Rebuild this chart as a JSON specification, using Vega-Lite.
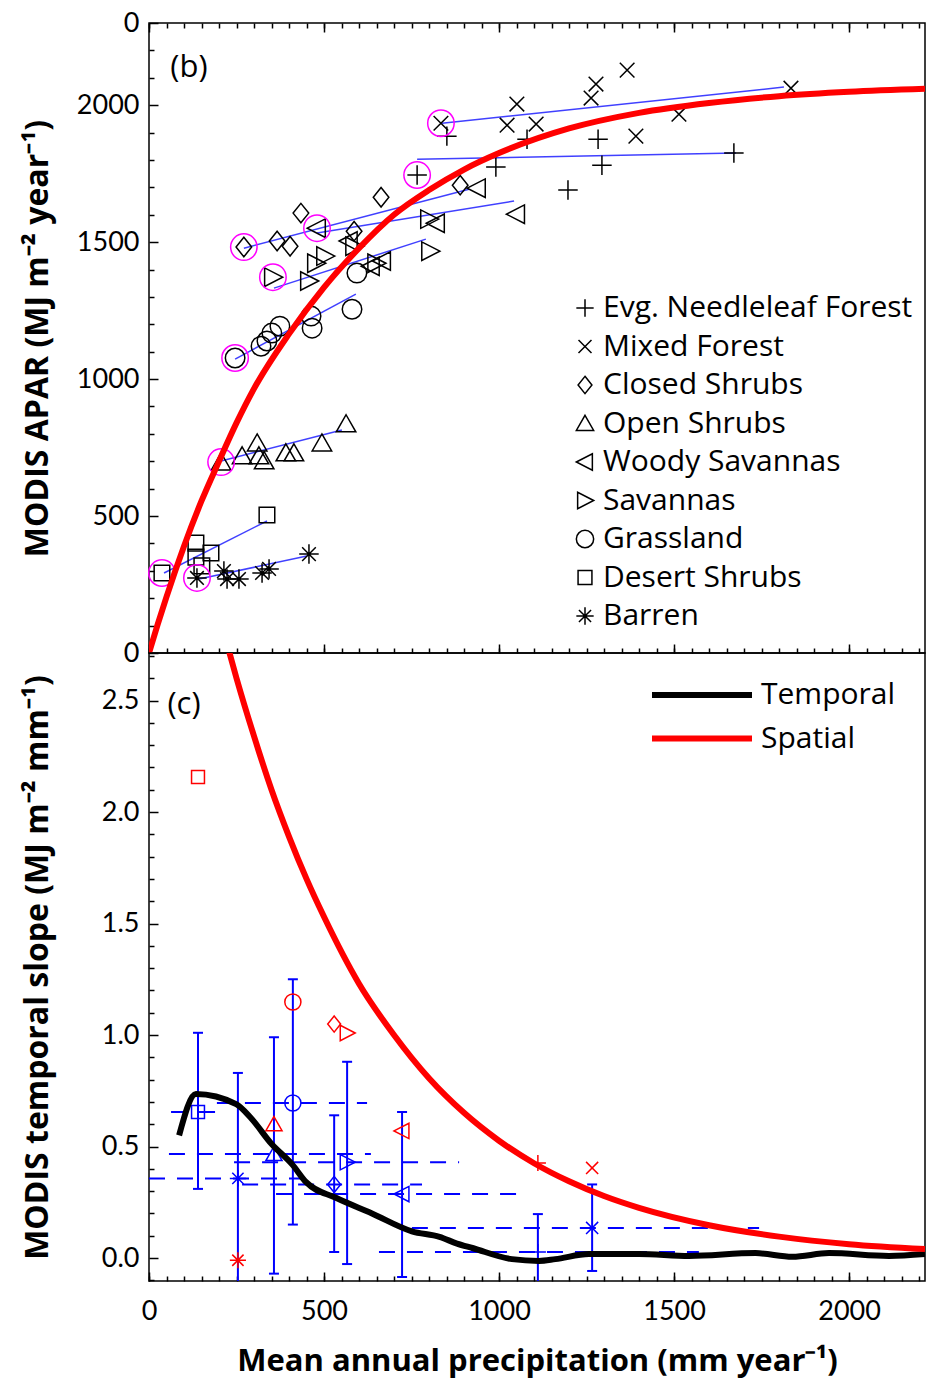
{
  "$schema": "https://vega.github.io/schema/vega-lite/v6.json",
  "background": "white",
  "padding": {"left": 20, "top": 8, "right": 0, "bottom": 8},
  "spacing": 0,
  "bounds": "flush",
  "config": {
    "view": {"stroke": "black", "strokeWidth": 1.5},
    "font": "Lato",
    "axis": {"labelFont": "Lato", "labelFontSize": 27, "labelColor": "black", "titleFont": "Open Sans", "titleFontSize": 32, "titleFontWeight": "bold", "titleColor": "black", "domain": false, "grid": false, "tickColor": "black", "tickWidth": 1.5, "labelOverlap": false, "labelFlush": false, "labelBound": false},
    "legend": {"labelFont": "Open Sans", "labelFontSize": 30, "labelColor": "black", "padding": 0, "labelLimit": 0}
  },
  "datasets": {
    "pts": [
      {"cls": "Evg. Needleleaf Forest", "x": 766, "y": 1745, "first": 1},
      {"cls": "Evg. Needleleaf Forest", "x": 851, "y": 1887, "first": 0},
      {"cls": "Evg. Needleleaf Forest", "x": 991, "y": 1774, "first": 0},
      {"cls": "Evg. Needleleaf Forest", "x": 1080, "y": 1876, "first": 0},
      {"cls": "Evg. Needleleaf Forest", "x": 1283, "y": 1876, "first": 0},
      {"cls": "Evg. Needleleaf Forest", "x": 1294, "y": 1781, "first": 0},
      {"cls": "Evg. Needleleaf Forest", "x": 1197, "y": 1690, "first": 0},
      {"cls": "Evg. Needleleaf Forest", "x": 1671, "y": 1825, "first": 0},
      {"cls": "Mixed Forest", "x": 834, "y": 1934, "first": 1},
      {"cls": "Mixed Forest", "x": 1051, "y": 2004, "first": 0},
      {"cls": "Mixed Forest", "x": 1023, "y": 1927, "first": 0},
      {"cls": "Mixed Forest", "x": 1106, "y": 1931, "first": 0},
      {"cls": "Mixed Forest", "x": 1277, "y": 2077, "first": 0},
      {"cls": "Mixed Forest", "x": 1263, "y": 2026, "first": 0},
      {"cls": "Mixed Forest", "x": 1366, "y": 2128, "first": 0},
      {"cls": "Mixed Forest", "x": 1514, "y": 1967, "first": 0},
      {"cls": "Mixed Forest", "x": 1391, "y": 1887, "first": 0},
      {"cls": "Mixed Forest", "x": 1834, "y": 2062, "first": 0},
      {"cls": "Closed Shrubs", "x": 271, "y": 1482, "first": 1},
      {"cls": "Closed Shrubs", "x": 366, "y": 1504, "first": 0},
      {"cls": "Closed Shrubs", "x": 403, "y": 1485, "first": 0},
      {"cls": "Closed Shrubs", "x": 434, "y": 1606, "first": 0},
      {"cls": "Closed Shrubs", "x": 663, "y": 1664, "first": 0},
      {"cls": "Closed Shrubs", "x": 889, "y": 1708, "first": 0},
      {"cls": "Closed Shrubs", "x": 586, "y": 1540, "first": 0},
      {"cls": "Woody Savannas", "x": 480, "y": 1551, "first": 1},
      {"cls": "Woody Savannas", "x": 571, "y": 1504, "first": 0},
      {"cls": "Woody Savannas", "x": 666, "y": 1431, "first": 0},
      {"cls": "Woody Savannas", "x": 820, "y": 1569, "first": 0},
      {"cls": "Woody Savannas", "x": 937, "y": 1697, "first": 0},
      {"cls": "Woody Savannas", "x": 1049, "y": 1602, "first": 0},
      {"cls": "Woody Savannas", "x": 634, "y": 1412, "first": 0},
      {"cls": "Savannas", "x": 354, "y": 1372, "first": 1},
      {"cls": "Savannas", "x": 477, "y": 1423, "first": 0},
      {"cls": "Savannas", "x": 457, "y": 1358, "first": 0},
      {"cls": "Savannas", "x": 503, "y": 1449, "first": 0},
      {"cls": "Savannas", "x": 800, "y": 1584, "first": 0},
      {"cls": "Savannas", "x": 803, "y": 1467, "first": 0},
      {"cls": "Savannas", "x": 649, "y": 1423, "first": 0},
      {"cls": "Savannas", "x": 586, "y": 1485, "first": 0},
      {"cls": "Grassland", "x": 246, "y": 1077, "first": 1},
      {"cls": "Grassland", "x": 320, "y": 1120, "first": 0},
      {"cls": "Grassland", "x": 337, "y": 1139, "first": 0},
      {"cls": "Grassland", "x": 351, "y": 1168, "first": 0},
      {"cls": "Grassland", "x": 374, "y": 1193, "first": 0},
      {"cls": "Grassland", "x": 463, "y": 1230, "first": 0},
      {"cls": "Grassland", "x": 466, "y": 1186, "first": 0},
      {"cls": "Grassland", "x": 580, "y": 1255, "first": 0},
      {"cls": "Grassland", "x": 594, "y": 1387, "first": 0},
      {"cls": "Open Shrubs", "x": 206, "y": 697, "first": 1},
      {"cls": "Open Shrubs", "x": 266, "y": 719, "first": 0},
      {"cls": "Open Shrubs", "x": 309, "y": 766, "first": 0},
      {"cls": "Open Shrubs", "x": 314, "y": 719, "first": 0},
      {"cls": "Open Shrubs", "x": 329, "y": 701, "first": 0},
      {"cls": "Open Shrubs", "x": 391, "y": 730, "first": 0},
      {"cls": "Open Shrubs", "x": 414, "y": 730, "first": 0},
      {"cls": "Open Shrubs", "x": 494, "y": 766, "first": 0},
      {"cls": "Open Shrubs", "x": 563, "y": 836, "first": 0},
      {"cls": "Desert Shrubs", "x": 37, "y": 292, "first": 1},
      {"cls": "Desert Shrubs", "x": 134, "y": 401, "first": 0},
      {"cls": "Desert Shrubs", "x": 134, "y": 350, "first": 0},
      {"cls": "Desert Shrubs", "x": 177, "y": 365, "first": 0},
      {"cls": "Desert Shrubs", "x": 151, "y": 318, "first": 0},
      {"cls": "Desert Shrubs", "x": 337, "y": 504, "first": 0},
      {"cls": "Barren", "x": 137, "y": 274, "first": 1},
      {"cls": "Barren", "x": 214, "y": 299, "first": 0},
      {"cls": "Barren", "x": 223, "y": 270, "first": 0},
      {"cls": "Barren", "x": 257, "y": 270, "first": 0},
      {"cls": "Barren", "x": 323, "y": 292, "first": 0},
      {"cls": "Barren", "x": 343, "y": 307, "first": 0},
      {"cls": "Barren", "x": 457, "y": 361, "first": 0}
    ],
    "fits": [
      {"cls": "Evg. Needleleaf Forest", "x": 766, "y": 1803},
      {"cls": "Evg. Needleleaf Forest", "x": 1677, "y": 1825},
      {"cls": "Mixed Forest", "x": 837, "y": 1934},
      {"cls": "Mixed Forest", "x": 1814, "y": 2066},
      {"cls": "Closed Shrubs", "x": 271, "y": 1478},
      {"cls": "Closed Shrubs", "x": 914, "y": 1693},
      {"cls": "Woody Savannas", "x": 480, "y": 1533},
      {"cls": "Woody Savannas", "x": 1043, "y": 1650},
      {"cls": "Savannas", "x": 357, "y": 1332},
      {"cls": "Savannas", "x": 791, "y": 1511},
      {"cls": "Grassland", "x": 246, "y": 1073},
      {"cls": "Grassland", "x": 591, "y": 1310},
      {"cls": "Open Shrubs", "x": 206, "y": 701},
      {"cls": "Open Shrubs", "x": 551, "y": 814},
      {"cls": "Desert Shrubs", "x": 43, "y": 292},
      {"cls": "Desert Shrubs", "x": 337, "y": 482},
      {"cls": "Barren", "x": 143, "y": 270},
      {"cls": "Barren", "x": 451, "y": 354}
    ],
    "curveA": [
      {"P": 0, "A": 0}, {"P": 25, "A": 105}, {"P": 50, "A": 205}, {"P": 100, "A": 390},
      {"P": 150, "A": 555}, {"P": 200, "A": 700}, {"P": 250, "A": 840}, {"P": 300, "A": 965},
      {"P": 400, "A": 1165}, {"P": 500, "A": 1335}, {"P": 600, "A": 1478}, {"P": 700, "A": 1600},
      {"P": 800, "A": 1690}, {"P": 900, "A": 1765}, {"P": 1000, "A": 1825}, {"P": 1200, "A": 1915},
      {"P": 1400, "A": 1972}, {"P": 1600, "A": 2008}, {"P": 1800, "A": 2033}, {"P": 2000, "A": 2049},
      {"P": 2217, "A": 2060}
    ],
    "bottom": [
      {"cls": "Desert Shrubs", "P": 140, "t": 0.655, "lo": 0.31, "hi": 1.01, "pmin": 63, "pmax": 214, "s": 2.157},
      {"cls": "Barren", "P": 254, "t": 0.357, "lo": -0.3, "hi": 0.83, "pmin": 0, "pmax": 450, "s": -0.01},
      {"cls": "Open Shrubs", "P": 357, "t": 0.466, "lo": -0.07, "hi": 0.99, "pmin": 57, "pmax": 634, "s": 0.6},
      {"cls": "Grassland", "P": 411, "t": 0.695, "lo": 0.15, "hi": 1.25, "pmin": 194, "pmax": 623, "s": 1.148},
      {"cls": "Closed Shrubs", "P": 529, "t": 0.33, "lo": 0.027, "hi": 0.64, "pmin": 266, "pmax": 780, "s": 1.049},
      {"cls": "Savannas", "P": 566, "t": 0.43, "lo": -0.027, "hi": 0.88, "pmin": 243, "pmax": 886, "s": 1.009},
      {"cls": "Woody Savannas", "P": 723, "t": 0.287, "lo": -0.085, "hi": 0.655, "pmin": 363, "pmax": 1071, "s": 0.57},
      {"cls": "Evg. Needleleaf Forest", "P": 1111, "t": 0.027, "lo": -0.3, "hi": 0.197, "pmin": 657, "pmax": 1571, "s": 0.426},
      {"cls": "Mixed Forest", "P": 1266, "t": 0.135, "lo": -0.058, "hi": 0.33, "pmin": 751, "pmax": 1743, "s": 0.404}
    ],
    "curves": [
      {"series": "Temporal", "P": 86, "v": 0.55},
      {"series": "Temporal", "P": 134, "v": 0.735},
      {"series": "Temporal", "P": 249, "v": 0.69},
      {"series": "Temporal", "P": 290, "v": 0.63},
      {"series": "Temporal", "P": 351, "v": 0.51},
      {"series": "Temporal", "P": 409, "v": 0.42},
      {"series": "Temporal", "P": 449, "v": 0.34},
      {"series": "Temporal", "P": 534, "v": 0.27},
      {"series": "Temporal", "P": 637, "v": 0.2},
      {"series": "Temporal", "P": 751, "v": 0.12},
      {"series": "Temporal", "P": 830, "v": 0.095},
      {"series": "Temporal", "P": 880, "v": 0.065},
      {"series": "Temporal", "P": 924, "v": 0.045},
      {"series": "Temporal", "P": 1037, "v": -0.005},
      {"series": "Temporal", "P": 1114, "v": -0.013},
      {"series": "Temporal", "P": 1161, "v": -0.005},
      {"series": "Temporal", "P": 1257, "v": 0.018},
      {"series": "Temporal", "P": 1400, "v": 0.018},
      {"series": "Temporal", "P": 1543, "v": 0.009},
      {"series": "Temporal", "P": 1733, "v": 0.022},
      {"series": "Temporal", "P": 1838, "v": 0.006},
      {"series": "Temporal", "P": 1943, "v": 0.022},
      {"series": "Temporal", "P": 2114, "v": 0.009},
      {"series": "Temporal", "P": 2217, "v": 0.018},
      {"series": "Spatial", "P": 220, "v": 2.77},
      {"series": "Spatial", "P": 250, "v": 2.6},
      {"series": "Spatial", "P": 300, "v": 2.34},
      {"series": "Spatial", "P": 350, "v": 2.1},
      {"series": "Spatial", "P": 400, "v": 1.89},
      {"series": "Spatial", "P": 450, "v": 1.7},
      {"series": "Spatial", "P": 500, "v": 1.53},
      {"series": "Spatial", "P": 600, "v": 1.23},
      {"series": "Spatial", "P": 700, "v": 1.0},
      {"series": "Spatial", "P": 800, "v": 0.806},
      {"series": "Spatial", "P": 900, "v": 0.651},
      {"series": "Spatial", "P": 1000, "v": 0.526},
      {"series": "Spatial", "P": 1100, "v": 0.425},
      {"series": "Spatial", "P": 1200, "v": 0.344},
      {"series": "Spatial", "P": 1300, "v": 0.278},
      {"series": "Spatial", "P": 1400, "v": 0.225},
      {"series": "Spatial", "P": 1600, "v": 0.147},
      {"series": "Spatial", "P": 1800, "v": 0.096},
      {"series": "Spatial", "P": 2000, "v": 0.062},
      {"series": "Spatial", "P": 2217, "v": 0.04}
    ]
  },
  "resolve": {"scale": {"x": "independent", "shape": "independent", "color": "independent"}},
  "vconcat": [
    {
      "width": 776,
      "height": 630,
      "resolve": {"axis": {"x": "independent", "y": "independent"}},
      "layer": [
        {
          "data": {"name": "fits"},
          "mark": {"type": "line", "color": "#1f1fff", "strokeWidth": 1.5, "opacity": 0.85},
          "encoding": {
            "x": {"field": "x", "type": "quantitative", "scale": {"domain": [0, 2217], "nice": false, "zero": false},
              "axis": {"orient": "top", "values": [0,50,100,150,200,250,300,350,400,450,500,550,600,650,700,750,800,850,900,950,1000,1050,1100,1150,1200,1250,1300,1350,1400,1450,1500,1550,1600,1650,1700,1750,1800,1850,1900,1950,2000,2050,2100,2150,2200], "labels": false, "title": null, "tickSize": -5}},
            "y": {"field": "y", "type": "quantitative", "scale": {"domain": [0, 2300], "nice": false, "zero": false},
              "axis": {"orient": "left", "values": [100,200,300,400,600,700,800,900,1100,1200,1300,1400,1600,1700,1800,1900,2100,2200], "labels": false, "title": null, "tickSize": -5}},
            "detail": {"field": "cls"}
          }
        },
        {
          "data": {"name": "pts"},
          "mark": {"type": "point", "filled": false, "color": "black", "strokeWidth": 1.5, "size": 380, "opacity": 1},
          "encoding": {
            "x": {"field": "x", "type": "quantitative", "scale": {"domain": [0, 2217], "nice": false, "zero": false},
              "axis": {"orient": "bottom", "values": [0,500,1000,1500,2000], "labels": false, "title": null, "tickSize": -9}},
            "y": {"field": "y", "type": "quantitative", "scale": {"domain": [0, 2300], "nice": false, "zero": false},
              "axis": {"orient": "left", "values": [0,500,1000,1500,2000,2300], "format": "d",
                "labelExpr": "datum.value === 2300 ? '0' : datum.label",
                "tickSize": -9, "labelPadding": 19,
                "title": "MODIS APAR (MJ m⁻² year⁻¹)", "titleX": -112, "titleBaseline": "middle"}},
            "shape": {"field": "cls", "type": "nominal",
              "scale": {"domain": ["Evg. Needleleaf Forest", "Mixed Forest", "Closed Shrubs", "Open Shrubs", "Woody Savannas", "Savannas", "Grassland", "Desert Shrubs", "Barren"],
                "range": ["M-1,0L1,0M0,-1L0,1", "M-0.75,-0.75L0.75,0.75M-0.75,0.75L0.75,-0.75", "M0,-1L0.8,0L0,1L-0.8,0Z", "M0,-0.95L1,0.8L-1,0.8Z", "M-1,0L0.85,-0.95L0.85,0.95Z", "M1,0L-0.85,-0.95L-0.85,0.95Z", "circle", "M-0.8,-0.8L0.8,-0.8L0.8,0.8L-0.8,0.8Z", "M-1,0L1,0M0,-1L0,1M-0.7,-0.7L0.7,0.7M-0.7,0.7L0.7,-0.7"]},
              "legend": {"orient": "none", "legendX": 421, "legendY": 270, "title": null, "symbolSize": 300, "symbolStrokeWidth": 1.5, "rowPadding": 8.5, "labelOffset": 3}}
          }
        },
        {
          "data": {"name": "pts"},
          "transform": [{"filter": "datum.first === 1"}],
          "mark": {"type": "point", "shape": "circle", "filled": false, "color": "#ff00ff", "strokeWidth": 1.5, "size": 700, "opacity": 1},
          "encoding": {
            "x": {"field": "x", "type": "quantitative", "scale": {"domain": [0, 2217], "nice": false, "zero": false},
              "axis": {"orient": "top", "values": [0,500,1000,1500,2000], "labels": false, "title": null, "tickSize": -9}},
            "y": {"field": "y", "type": "quantitative", "scale": {"domain": [0, 2300], "nice": false, "zero": false}, "axis": null}
          }
        },
        {
          "data": {"name": "curveA"},
          "mark": {"type": "line", "color": "red", "strokeWidth": 6, "interpolate": "monotone", "clip": true},
          "encoding": {
            "x": {"field": "P", "type": "quantitative", "scale": {"domain": [0, 2217], "nice": false, "zero": false},
              "axis": {"orient": "bottom", "values": [0,50,100,150,200,250,300,350,400,450,500,550,600,650,700,750,800,850,900,950,1000,1050,1100,1150,1200,1250,1300,1350,1400,1450,1500,1550,1600,1650,1700,1750,1800,1850,1900,1950,2000,2050,2100,2150,2200], "labels": false, "title": null, "tickSize": -5}},
            "y": {"field": "A", "type": "quantitative", "scale": {"domain": [0, 2300], "nice": false, "zero": false}, "axis": null}
          }
        },
        {
          "data": {"values": [{"x": 114, "y": 2135, "t": "(b)"}]},
          "mark": {"type": "text", "fontSize": 31, "font": "Open Sans", "color": "black", "align": "center", "baseline": "middle"},
          "encoding": {
            "x": {"field": "x", "type": "quantitative", "scale": {"domain": [0, 2217], "nice": false, "zero": false}, "axis": null},
            "y": {"field": "y", "type": "quantitative", "scale": {"domain": [0, 2300], "nice": false, "zero": false}, "axis": null},
            "text": {"field": "t"}
          }
        }
      ]
    },
    {
      "width": 776,
      "height": 628,
      "resolve": {"axis": {"x": "independent", "y": "independent"}},
      "layer": [
        {
          "data": {"name": "bottom"},
          "mark": {"type": "rule", "color": "#0000ff", "strokeWidth": 2, "strokeDash": [16, 12], "clip": true},
          "encoding": {
            "x": {"field": "pmin", "type": "quantitative", "scale": {"domain": [0, 2217], "nice": false, "zero": false},
              "axis": {"orient": "bottom", "values": [0,500,1000,1500,2000], "format": "d", "tickSize": -9, "labelPadding": 26,
                "title": "Mean annual precipitation (mm year⁻¹)", "titleFontSize": 31, "titleY": 80, "titleBaseline": "middle"}},
            "x2": {"field": "pmax"},
            "y": {"field": "t", "type": "quantitative", "scale": {"domain": [-0.103, 2.713], "nice": false, "zero": false},
              "axis": {"orient": "left", "values": [0, 0.5, 1, 1.5, 2, 2.5], "format": ".1f", "tickSize": -9, "labelPadding": 19,
                "title": "MODIS temporal slope (MJ m⁻² mm⁻¹)", "titleX": -112, "titleBaseline": "middle"}}
          }
        },
        {
          "data": {"name": "bottom"},
          "mark": {"type": "rule", "color": "#0000ff", "strokeWidth": 2, "clip": true},
          "encoding": {
            "x": {"field": "P", "type": "quantitative", "scale": {"domain": [0, 2217], "nice": false, "zero": false},
              "axis": {"orient": "bottom", "values": [0,50,100,150,200,250,300,350,400,450,500,550,600,650,700,750,800,850,900,950,1000,1050,1100,1150,1200,1250,1300,1350,1400,1450,1500,1550,1600,1650,1700,1750,1800,1850,1900,1950,2000,2050,2100,2150,2200], "labels": false, "title": null, "tickSize": -5}},
            "y": {"field": "lo", "type": "quantitative", "scale": {"domain": [-0.103, 2.713], "nice": false, "zero": false},
              "axis": {"orient": "left", "values": [-0.1,0.1,0.2,0.3,0.4,0.6,0.7,0.8,0.9,1.1,1.2,1.3,1.4,1.6,1.7,1.8,1.9,2.1,2.2,2.3,2.4,2.6,2.7], "labels": false, "title": null, "tickSize": -5}},
            "y2": {"field": "hi"}
          }
        },
        {
          "data": {"name": "bottom"},
          "mark": {"type": "tick", "orient": "horizontal", "color": "#0000ff", "size": 10, "thickness": 2, "opacity": 1, "clip": true},
          "encoding": {
            "x": {"field": "P", "type": "quantitative", "scale": {"domain": [0, 2217], "nice": false, "zero": false}, "axis": null},
            "y": {"field": "hi", "type": "quantitative", "scale": {"domain": [-0.103, 2.713], "nice": false, "zero": false}, "axis": null}
          }
        },
        {
          "data": {"name": "bottom"},
          "mark": {"type": "tick", "orient": "horizontal", "color": "#0000ff", "size": 10, "thickness": 2, "opacity": 1, "clip": true},
          "encoding": {
            "x": {"field": "P", "type": "quantitative", "scale": {"domain": [0, 2217], "nice": false, "zero": false}, "axis": null},
            "y": {"field": "lo", "type": "quantitative", "scale": {"domain": [-0.103, 2.713], "nice": false, "zero": false}, "axis": null}
          }
        },
        {
          "data": {"name": "bottom"},
          "mark": {"type": "point", "filled": false, "color": "#0000ff", "strokeWidth": 1.5, "size": 260, "opacity": 1},
          "encoding": {
            "x": {"field": "P", "type": "quantitative", "scale": {"domain": [0, 2217], "nice": false, "zero": false}, "axis": null},
            "y": {"field": "t", "type": "quantitative", "scale": {"domain": [-0.103, 2.713], "nice": false, "zero": false}, "axis": null},
            "shape": {"field": "cls", "type": "nominal", "legend": null,
              "scale": {"domain": ["Evg. Needleleaf Forest", "Mixed Forest", "Closed Shrubs", "Open Shrubs", "Woody Savannas", "Savannas", "Grassland", "Desert Shrubs", "Barren"],
                "range": ["M-1,0L1,0M0,-1L0,1", "M-0.75,-0.75L0.75,0.75M-0.75,0.75L0.75,-0.75", "M0,-1L0.8,0L0,1L-0.8,0Z", "M0,-0.95L1,0.8L-1,0.8Z", "M-1,0L0.85,-0.95L0.85,0.95Z", "M1,0L-0.85,-0.95L-0.85,0.95Z", "circle", "M-0.8,-0.8L0.8,-0.8L0.8,0.8L-0.8,0.8Z", "M-1,0L1,0M0,-1L0,1M-0.7,-0.7L0.7,0.7M-0.7,0.7L0.7,-0.7"]}}
          }
        },
        {
          "data": {"name": "bottom"},
          "mark": {"type": "point", "filled": false, "color": "#ff0000", "strokeWidth": 1.5, "size": 260, "opacity": 1},
          "encoding": {
            "x": {"field": "P", "type": "quantitative", "scale": {"domain": [0, 2217], "nice": false, "zero": false}, "axis": null},
            "y": {"field": "s", "type": "quantitative", "scale": {"domain": [-0.103, 2.713], "nice": false, "zero": false}, "axis": null},
            "shape": {"field": "cls", "type": "nominal", "legend": null,
              "scale": {"domain": ["Evg. Needleleaf Forest", "Mixed Forest", "Closed Shrubs", "Open Shrubs", "Woody Savannas", "Savannas", "Grassland", "Desert Shrubs", "Barren"],
                "range": ["M-1,0L1,0M0,-1L0,1", "M-0.75,-0.75L0.75,0.75M-0.75,0.75L0.75,-0.75", "M0,-1L0.8,0L0,1L-0.8,0Z", "M0,-0.95L1,0.8L-1,0.8Z", "M-1,0L0.85,-0.95L0.85,0.95Z", "M1,0L-0.85,-0.95L-0.85,0.95Z", "circle", "M-0.8,-0.8L0.8,-0.8L0.8,0.8L-0.8,0.8Z", "M-1,0L1,0M0,-1L0,1M-0.7,-0.7L0.7,0.7M-0.7,0.7L0.7,-0.7"]}}
          }
        },
        {
          "data": {"name": "curves"},
          "mark": {"type": "line", "strokeWidth": 6, "interpolate": "monotone", "clip": true},
          "encoding": {
            "x": {"field": "P", "type": "quantitative", "scale": {"domain": [0, 2217], "nice": false, "zero": false}, "axis": null},
            "y": {"field": "v", "type": "quantitative", "scale": {"domain": [-0.103, 2.713], "nice": false, "zero": false}, "axis": null},
            "color": {"field": "series", "type": "nominal", "scale": {"domain": ["Temporal", "Spatial"], "range": ["black", "red"]},
              "legend": {"orient": "none", "legendX": 538, "legendY": 27, "title": null, "symbolType": "M-5,0L5,0", "symbolSize": 400, "symbolStrokeWidth": 6, "rowPadding": 13.5, "labelOffset": 44}}
          }
        },
        {
          "data": {"values": [{"x": 100, "y": 2.48, "t": "(c)"}]},
          "mark": {"type": "text", "fontSize": 31, "font": "Open Sans", "color": "black", "align": "center", "baseline": "middle"},
          "encoding": {
            "x": {"field": "x", "type": "quantitative", "scale": {"domain": [0, 2217], "nice": false, "zero": false}, "axis": null},
            "y": {"field": "y", "type": "quantitative", "scale": {"domain": [-0.103, 2.713], "nice": false, "zero": false}, "axis": null},
            "text": {"field": "t"}
          }
        }
      ]
    }
  ]
}
